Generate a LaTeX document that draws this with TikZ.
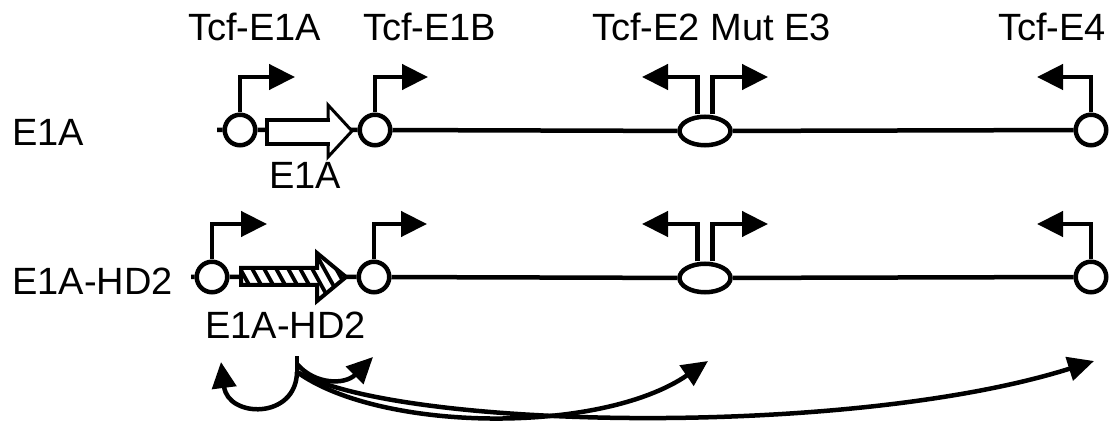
\documentclass[tikz,border=0pt]{standalone}
\usepackage{fontspec}
\setmainfont{Liberation Sans}
\usetikzlibrary{arrows.meta,shapes.geometric}
\begin{document}
\begin{tikzpicture}[x=1pt,y=-1pt,
  lw/.style={line width=4.5pt},
  site/.style={circle,draw,lw,fill=white,minimum size=30.5pt,inner sep=0pt},
  oval/.style={ellipse,draw,lw,fill=white,minimum width=51pt,minimum height=28.5pt,inner sep=0pt},
  prom/.style={lw,-{Triangle[length=26pt,width=25pt]}},
  dna/.style={lw},
  link/.style={line width=4.5pt,-{Triangle[length=26pt,width=24pt]}},
  lab/.style={font=\fontsize{38}{44}\selectfont,inner sep=0pt,anchor=base west}]
\useasboundingbox[fill=white] (0,0) rectangle (1112,422);

% labels
\node[lab] (lt1) at (188,41) {Tcf-E1A};
\node[lab] (lt2) at (363,41) {Tcf-E1B};
\node[lab] (lt3) at (592,41) {Tcf-E2 Mut E3};
\node[lab] (lt4) at (998,41) {Tcf-E4};
\node[lab] (lr1) at (12,146) {E1A};
\node[lab] (lr2) at (12,295) {E1A-HD2};
\node[lab] (lg1) at (269,189) {E1A};
\node[lab] (lg2) at (205,338) {E1A-HD2};

% row 1
\node[site] (c11) at (240,130) {};
\node[site] (c12) at (375,130) {};
\node[oval] (e1) at (705,131) {};
\node[site] (c14) at (1091,130) {};
\coordinate (t1) at (217,130);
\coordinate (p11) at (295,77);
\coordinate (p12) at (428,77);
\coordinate (p13l) at (642,77);
\coordinate (p13r) at (768,77);
\coordinate (p14) at (1037,77);

\draw[dna] (t1) -- (c11) -- (c12) -- (e1) -- (c14);
\draw[prom] (c11.north) |- (p11);
\draw[prom] (c12.north) |- (p12);
\draw[prom] ([xshift=-7.5pt]e1.north) |- (p13l);
\draw[prom] ([xshift=7.5pt]e1.north) |- (p13r);
\draw[prom] (c14.north) |- (p14);

% row 1 open block arrow
\fill[white] (267,120) -- (328,120) -- (328,105) -- (352,131) -- (328,157) -- (328,144) -- (267,144) -- cycle;
\draw[line width=4.5pt] (330,120) -- (267,120) -- (267,144) -- (330,144);
\draw[line width=3pt] (328,120) -- (328,105) -- (352,131) -- (328,157) -- (328,144);

% row 2
\node[site] (c21) at (212,277) {};
\node[site] (c22) at (374,277) {};
\node[oval] (e2) at (705,278) {};
\node[site] (c24) at (1091,277) {};
\coordinate (t2) at (191,277);
\coordinate (p21) at (267,224);
\coordinate (p22) at (427,224);
\coordinate (p23l) at (642,224);
\coordinate (p23r) at (768,224);
\coordinate (p24) at (1037,224);

\draw[dna] (t2) -- (c21) -- (c22) -- (e2) -- (c24);
\draw[prom] (c21.north) |- (p21);
\draw[prom] (c22.north) |- (p22);
\draw[prom] ([xshift=-7.5pt]e2.north) |- (p23l);
\draw[prom] ([xshift=7.5pt]e2.north) |- (p23r);
\draw[prom] (c24.north) |- (p24);

% row 2 hatched block arrow
\fill[white] (241,268) -- (317,268) -- (317,253) -- (346,277) -- (317,301) -- (317,285) -- (241,285) -- cycle;
\begin{scope}
  \clip (241,268) -- (317,268) -- (317,253) -- (346,277) -- (317,301) -- (317,285) -- (241,285) -- cycle;
  \foreach \xx in {215,227,...,359} {
    \draw[line width=3.8pt] (\xx,245) -- ({\xx+36},310);
  }
\end{scope}
\draw[line width=4pt,line join=miter] (241,268) -- (317,268) -- (317,253) -- (346,277) -- (317,301) -- (317,285) -- (241,285) -- cycle;

% interaction arrows
\coordinate (s0) at (297,356);
\coordinate (s2) at (297,364);
\coordinate (s1) at (297,372);
\coordinate (a1) at (221,362);
\coordinate (a2) at (373,357);
\coordinate (a3) at (708,361);
\coordinate (a4) at (1094,361);
\draw[lw] (s0) -- (s1);
\draw[link] (s1) .. controls (296,420) and (228,418) .. (a1);
\draw[link] (s2) .. controls (315,385) and (345,385) .. (a2);
\draw[link] (s1) .. controls (380,432) and (600,435) .. (a3);
\draw[link] (s1) .. controls (400,430) and (850,438) .. (a4);
\end{tikzpicture}
\end{document}
